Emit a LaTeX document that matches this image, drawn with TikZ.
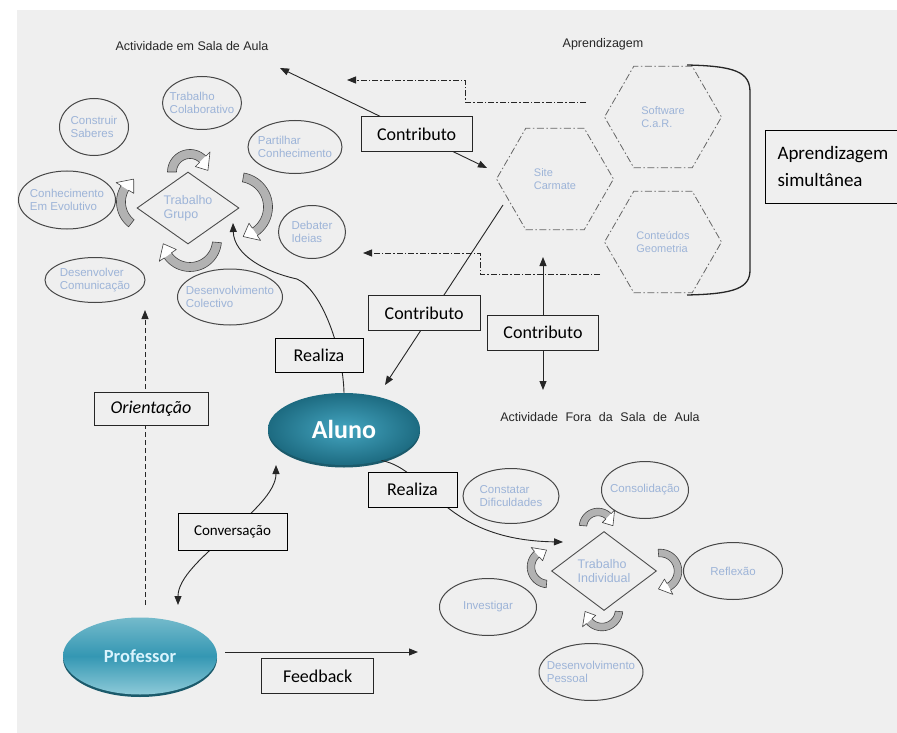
\documentclass[tikz,border=0pt]{standalone}
\usepackage{fontspec}
\setmainfont{Liberation Sans}
\newfontfamily\boxfont{Carlito}
\newfontfamily\spacedfont[WordSpace=2.2]{Liberation Sans}
\usetikzlibrary{shapes.geometric, arrows.meta, shadows}

\definecolor{panel}{HTML}{EFEFEF}
\definecolor{pale}{HTML}{9DB4D8}
\definecolor{tealdark}{HTML}{1D6B81}
\definecolor{teallight}{HTML}{44A5C0}
\definecolor{proftop}{HTML}{74BACB}
\definecolor{profmid}{HTML}{3497B3}
\definecolor{profbot}{HTML}{8DCAD8}
\definecolor{rim}{HTML}{1B5A6B}

% curved block arrow: cx, cy, radius, tail angle, tip angle, half width
\newcommand{\turnarrow}[6]{%
  \pgfmathsetmacro{\ha}{#5-sign(#5-#4)*deg(2.8*#6/#3)}%
  \pgfmathsetmacro{\rOut}{#3+#6}%
  \pgfmathsetmacro{\rIn}{#3-#6}%
  \pgfmathsetmacro{\rHo}{#3+2.3*#6}%
  \pgfmathsetmacro{\rHi}{#3-2.3*#6}%
  \path[turnbody] plot[domain=#4:\ha, samples=24] ({#1+\rOut*cos(\x)},{#2+\rOut*sin(\x)})
    -- plot[domain=\ha:#4, samples=24] ({#1+\rIn*cos(\x)},{#2+\rIn*sin(\x)}) -- cycle;
  \path[turnhead] ({#1+\rHo*cos(\ha)},{#2+\rHo*sin(\ha)}) -- ({#1+#3*cos(#5)},{#2+#3*sin(#5)})
    -- ({#1+\rHi*cos(\ha)},{#2+\rHi*sin(\ha)}) -- cycle;
  \draw[turnline] plot[domain=#4:\ha, samples=24] ({#1+\rOut*cos(\x)},{#2+\rOut*sin(\x)})
    -- ({#1+\rHo*cos(\ha)},{#2+\rHo*sin(\ha)}) -- ({#1+#3*cos(#5)},{#2+#3*sin(#5)})
    -- ({#1+\rHi*cos(\ha)},{#2+\rHi*sin(\ha)})
    -- plot[domain=\ha:#4, samples=24] ({#1+\rIn*cos(\x)},{#2+\rIn*sin(\x)}) -- cycle;
}

\begin{document}
\begin{tikzpicture}[x=1pt, y=-1pt,
  >={Triangle[length=9pt,width=7pt]},
  conn/.style={draw=black!85, line width=0.9pt},
  dd/.style={conn, dash pattern=on 6pt off 2pt on 1.5pt off 2pt},
  orientline/.style={conn, dash pattern=on 5pt off 3pt},
  lbox/.style={draw, solid, line width=0.9pt, fill=panel, inner sep=0pt, minimum height=35pt,
    font=\boxfont\fontsize{18}{20}\selectfont},
  title/.style={text=black!85, font=\fontsize{12.5}{14}\selectfont},
  ell/.style={ellipse, draw=black!72, line width=1pt},
  dia/.style={diamond, draw=black!70, line width=0.9pt, inner sep=0pt},
  hex/.style={regular polygon, regular polygon sides=6, minimum size=117pt, inner sep=0pt,
    draw=black!60, line width=0.8pt, dash pattern=on 7pt off 2.5pt on 1.5pt off 2.5pt},
  lab/.style={text=pale, align=left, font=\fontsize{11.5}{13}\selectfont},
  turnbody/.style={fill=black!30},
  turnhead/.style={fill=white},
  turnline/.style={draw=black!75, line width=0.6pt, line join=round}]

\useasboundingbox (0,0) rectangle (897,733);
\clip (0,0) rectangle (897,733);
\fill[panel] (17,10) rectangle (897,733);

% titles
\node[title] (sala) at (192,46) {Actividade em Sala de Aula};
\node[title] (aprend) at (603,44) {Aprendizagem};
\node[title, font=\spacedfont\fontsize{12.5}{14}\selectfont] (fora) at (600,417) {Actividade Fora da Sala de Aula};

% trabalho em grupo
\node[dia, minimum width=102pt, minimum height=72pt, label={[lab, font=\fontsize{12.5}{14}\selectfont]center:{Trabalho\\Grupo}}] (g0) at (188,208) {};
\node[ell, minimum width=79pt, minimum height=53pt, label={[lab]center:{Trabalho\\Colaborativo}}] (g1) at (202,103) {};
\node[ell, minimum width=69pt, minimum height=57pt, label={[lab]center:{Construir\\Saberes}}] (g2) at (94,127) {};
\node[ell, minimum width=94pt, minimum height=53pt, label={[lab]center:{Partilhar\\Conhecimento}}] (g3) at (295,147) {};
\node[ell, minimum width=97pt, minimum height=58pt, label={[lab]center:{Conhecimento\\Em Evolutivo}}] (g4) at (67,200) {};
\node[ell, minimum width=67pt, minimum height=53pt, label={[lab]center:{Debater\\Ideias}}] (g5) at (312,232) {};
\node[ell, minimum width=100pt, minimum height=45pt, label={[lab]center:{Desenvolver\\Comunicação}}] (g6) at (95,280) {};
\node[ell, minimum width=105pt, minimum height=56pt, label={[lab]center:{Desenvolvimento\\Colectivo}}] (g7) at (230,297) {};

\turnarrow{190}{172}{18}{180}{355}{4.5}
\turnarrow{238}{207}{30}{-80}{80}{4.5}
\turnarrow{190}{240}{27}{5}{172}{4.5}
\turnarrow{148}{202}{27}{128}{238}{4.5}

% trabalho individual
\node[dia, minimum width=105pt, minimum height=79pt, label={[lab, font=\fontsize{12.5}{14}\selectfont]center:{Trabalho\\Individual}}] (i0) at (604,571) {};
\node[ell, minimum width=96pt, minimum height=55pt, label={[lab]center:{Constatar\\Dificuldades}}] (i1) at (511,496) {};
\node[ell, minimum width=87pt, minimum height=57pt, label={[lab]center:Consolidação}] (i2) at (645,490) {};
\node[ell, minimum width=99pt, minimum height=57pt, label={[lab]center:Reflexão}] (i3) at (733,571) {};
\node[ell, minimum width=97pt, minimum height=57pt, label={[lab]center:Investigar}] (i4) at (488,607) {};
\node[ell, minimum width=104pt, minimum height=57pt, label={[lab]center:{Desenvolvimento\\Pessoal}}] (i5) at (591,672) {};

\turnarrow{598}{527}{15}{185}{355}{3.8}
\turnarrow{660}{571}{18}{-95}{95}{3.8}
\turnarrow{602}{610}{17}{5}{175}{3.8}
\turnarrow{548}{567}{17}{95}{265}{3.8}

% aprendizagem
\node[hex, label={[lab, font=\fontsize{11}{13}\selectfont]center:{Software\\C.a.R.}}] (h1) at (663,117) {};
\node[hex, label={[lab, font=\fontsize{11}{13}\selectfont]center:{Site\\Carmate}}] (h2) at (555,179) {};
\node[hex, label={[lab, font=\fontsize{11}{13}\selectfont]center:{Conteúdos\\Geometria}}] (h3) at (663,242) {};
\draw[line width=1.3pt, black!85] (687,65) .. controls (735,66) and (750,72) .. (750,92) -- (750,270) .. controls (750,288) and (735,294) .. (687,295);
\node[lbox, minimum width=150pt, minimum height=73pt, text width=125pt, align=left,
  font=\boxfont\fontsize{19}{27}\selectfont] (simul) at (840,166.5) {Aprendizagem\\simultânea};

% actores
\node[ellipse, minimum width=152pt, minimum height=72pt, inner color=teallight, outer color=tealdark,
  drop shadow={shadow xshift=0pt, shadow yshift=-2.5pt, fill=rim, opacity=1},
  text=white, font=\boxfont\bfseries\fontsize{26}{28}\selectfont] (aluno) at (344,429) {Aluno};
\node[ellipse, minimum width=154pt, minimum height=77pt, top color=proftop, bottom color=profbot, middle color=profmid,
  drop shadow={shadow xshift=0pt, shadow yshift=-2.5pt, fill=rim, opacity=1},
  text=white!85!cyan, font=\boxfont\bfseries\fontsize{18.5}{20}\selectfont] (prof) at (140,656) {Professor};

% pontas livres
\coordinate (salatip) at (280,68);
\coordinate (sitetip) at (487,168);
\coordinate (sitefoot) at (503,205);
\coordinate (alunotip) at (385,385);
\coordinate (uptip) at (543,257);
\coordinate (downtip) at (543,390);
\coordinate (gtip) at (233,223);
\coordinate (itip) at (563,542);
\coordinate (proftip) at (178,605);
\coordinate (alunolow) at (276,465);
\coordinate (fbstart) at (225,652);
\coordinate (fbtip) at (418,652);
\coordinate (oristart) at (145,605);
\coordinate (oritip) at (145,310);
\coordinate (softout) at (586,102);
\coordinate (ddtip1) at (347,80);
\coordinate (geoout) at (600,274);
\coordinate (ddtip2) at (363,253);

% ligacoes
\draw[conn, <->] (salatip) -- node[lbox, minimum width=111pt, pos=0.66] (c1) {Contributo} (sitetip);
\draw[conn, ->] (sitefoot) -- node[lbox, minimum width=112pt, pos=0.6, xshift=-8pt] (c2) {Contributo} (alunotip);
\draw[conn, <->] (uptip) -- node[lbox, minimum width=111pt, pos=0.57] (c3) {Contributo} (downtip);
\draw[dd, ->] (softout) -| (465,80) -- (ddtip1);
\draw[dd, ->] (geoout) -| (480,253) -- (ddtip2);

\draw[conn, ->] (aluno.north) .. controls (343,350) and (322,290) .. (297,279)
  .. controls (265,272) and (234,255) .. (gtip);
\node[lbox, minimum width=88pt, minimum height=34pt] (r1) at (319,355) {Realiza};
\draw[conn, ->] (aluno.-40) .. controls (430,470) and (440,540) .. (itip);
\node[lbox, minimum width=89pt] (r2) at (412.5,489.5) {Realiza};

\draw[conn, <->] (proftip) .. controls (178,560) and (276,510) .. (alunolow);
\node[lbox, minimum width=109pt, minimum height=37pt, font=\boxfont\fontsize{15}{17}\selectfont] (conv) at (232.5,531.5) {Conversação};
\draw[conn, ->] (fbstart) -- node[lbox, minimum width=112pt, pos=0.48, below=6pt] (fb) {Feedback} (fbtip);
\draw[orientline, ->] (oristart) -- node[lbox, minimum width=114pt, minimum height=33pt, pos=0.666, xshift=6pt,
  font=\boxfont\itshape\fontsize{18}{20}\selectfont] (ori) {Orientação} (oritip);
\end{tikzpicture}
\end{document}
